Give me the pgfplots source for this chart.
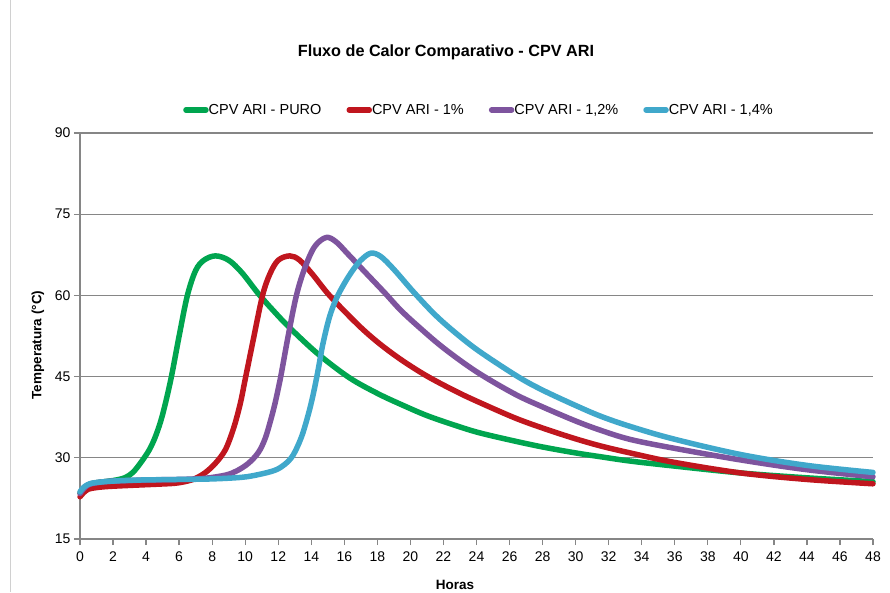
\documentclass[border=0pt]{standalone}
\usepackage{pgfplots}
\pgfplotsset{compat=1.18}
\usepackage{fontspec}
\setmainfont{Liberation Sans}

\definecolor{cgreen}{HTML}{00A54F}
\definecolor{cred}{HTML}{C0161E}
\definecolor{cpurple}{HTML}{7E549E}
\definecolor{cblue}{HTML}{40A8CB}
\definecolor{axgray}{HTML}{868686}
\definecolor{bordergray}{HTML}{D0D0D0}

\pgfplotsset{curve/.style={line width=5.5pt, line cap=round, line join=round, smooth, tension=0.55}}

\begin{document}
\begin{tikzpicture}
\useasboundingbox (-80pt,-53pt) rectangle (810pt,539pt);
\begin{axis}[
  at={(0pt,0pt)}, anchor=south west, scale only axis,
  width=793pt, height=406pt,
  xmin=0, xmax=48, ymin=15, ymax=90,
  xtick={0,2,...,48}, ytick={15,30,...,90},
  separate axis lines,
  axis x line*=bottom, axis y line*=left,
  x axis line style={-}, y axis line style={-},
  axis line style={draw=axgray, line width=1.3pt},
  tick align=outside, major tick length=6pt,
  tick style={draw=axgray, line width=1.3pt},
  ymajorgrids, major grid style={draw=axgray, line width=1.3pt},
  /pgf/number format/assume math mode=true,
  ticklabel style={font=\fontsize{14}{16}\selectfont},
  xticklabel style={yshift=-3pt},
  clip=false,
  xlabel={Horas}, ylabel={Temperatura (°C)},
  xlabel style={font=\bfseries\fontsize{13.5}{15}\selectfont, at={(axis description cs:0.473,-0.113)}, anchor=center},
  ylabel style={font=\bfseries\fontsize{13.5}{15}\selectfont, at={(axis description cs:-0.053,0.478)}, anchor=center},
  legend columns=4,
  legend cell align=left,
  legend image code/.code={\draw[line width=5.5pt, line cap=round] (2pt,0pt) -- (22pt,0pt);},
  legend style={draw=none, fill=none, at={(0.1299,1.0567)}, anchor=west,
    inner sep=0pt, font=\fontsize{14.5}{16}\selectfont,
    nodes={inner sep=0pt},
    /tikz/every even column/.append style={column sep=25pt}},
]
\addplot[cgreen, curve] coordinates {
(0,23.5) (0.2,24.3) (0.5,25.0) (1,25.4) (2,25.8) (2.7,26.3) (3.2,27.3) (3.7,29.2)
(4.2,31.5) (4.6,34.2) (5,38) (5.5,44.5) (6,52.5) (6.5,60) (7,64.6) (7.5,66.5)
(8.2,67.3) (9,66.5) (9.8,64.2) (10.8,60.3) (11.7,57.2) (12.7,54.0) (14.4,49.2) (16.3,44.8)
(18,41.9) (19.4,39.9) (21,37.8) (22.8,35.9) (24.2,34.6) (26.3,33.1) (28,32.0) (30,30.9)
(31.5,30.2) (33.3,29.4) (35.9,28.5) (40,27.2) (44,26.3) (48,25.6)};
\addlegendentry{CPV ARI - PURO}
\addplot[cred, curve] coordinates {
(0,22.8) (0.2,23.5) (0.5,24.2) (1,24.5) (1.7,24.7) (3,24.9) (4.5,25.1) (5.75,25.3)
(6.5,25.7) (7,26.2) (7.6,27.3) (8.2,29) (8.8,31.5) (9.3,35.5) (9.7,40) (10,44.5)
(10.5,52) (11.05,60) (11.5,64) (12,66.5) (12.7,67.3) (13.3,66.5) (14.1,63.8) (15.1,60)
(16.75,54.8) (18,51.4) (19.4,48.2) (21,45.1) (22.8,42.2) (24.2,40.2) (26.3,37.4) (28,35.5)
(29.9,33.6) (31.5,32.2) (33.3,30.9) (35.9,29.2) (40,27.2) (44,26.0) (48,25.2)};
\addlegendentry{CPV ARI - 1\%}
\addplot[cpurple, curve] coordinates {
(0,23.4) (0.2,24.2) (0.5,25.0) (1,25.4) (2,25.7) (4,25.9) (6,26.0) (7.5,26.2)
(8.8,26.8) (9.5,27.6) (10.2,29) (10.8,31) (11.2,33.5) (11.5,36.5) (11.8,40) (12.15,45)
(12.6,52.5) (13.1,60) (13.6,65) (14.2,69) (14.9,70.7) (15.5,69.9) (16.2,67.7) (17.35,64)
(18.5,60.3) (19.4,57.3) (20.5,54.2) (22,50.3) (24,45.9) (26.3,41.8) (28,39.4) (30,36.8)
(31.5,35.1) (33.3,33.4) (35.9,31.8) (40,29.6) (44,27.8) (48,26.5)};
\addlegendentry{CPV ARI - 1,2\%}
\addplot[cblue, curve] coordinates {
(0,23.7) (0.2,24.5) (0.5,25.1) (0.9,25.4) (2,25.7) (3.7,25.9) (6,26.0) (8,26.1)
(9.8,26.4) (10.8,26.9) (11.8,27.7) (12.4,28.8) (12.9,30.5) (13.4,33.8) (13.8,37.8) (14.1,41.5)
(14.4,46) (14.7,51) (15.1,56) (15.5,59.3) (16,62.2) (16.5,64.6) (17,66.5) (17.6,67.8)
(18.2,67.2) (19,64.8) (20.2,60.6) (21.5,56.4) (22.8,52.9) (24.2,49.6) (26.5,45) (28,42.5)
(29.9,39.8) (31.5,37.7) (33.3,35.8) (35.9,33.5) (40,30.6) (44,28.6) (48,27.3)};
\addlegendentry{CPV ARI - 1,4\%}
\end{axis}
\node[font=\bfseries\fontsize{16.2}{20}\selectfont] at (366pt,487pt) {Fluxo de Calor Comparativo - CPV ARI};
\draw[bordergray, line width=1pt] (-69pt,-53pt) -- (-69pt,539pt);
\end{tikzpicture}
\end{document}
